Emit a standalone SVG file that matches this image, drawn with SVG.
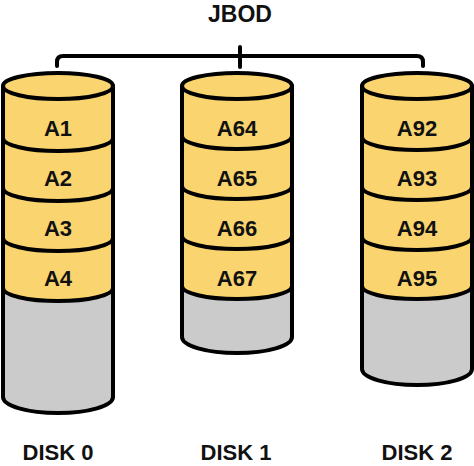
<svg xmlns="http://www.w3.org/2000/svg" width="474" height="466" viewBox="0 0 474 466">
<style>
.body{fill:#CBCBCB;stroke:none}
.data{fill:#FAD46E;stroke:none}
.line{fill:none;stroke:#000;stroke-width:4;stroke-linejoin:round;stroke-linecap:round}
.top{fill:#FAD46E;stroke:#000;stroke-width:4}
text{font-family:"Liberation Sans",Arial,sans-serif;font-weight:bold;fill:#111;text-anchor:middle}
.lbl{font-size:22px}
.cap{font-size:23px}
.dsk{font-size:22px}
</style>
<rect width="474" height="466" fill="#fff"/>
<text class="cap" x="240" y="22">JBOD</text>
<g id="connectors">
<path class="line" d="M57,66 L57,62 Q57,56 63,56 L417,56 Q423,56 423,62 L423,66"/>
<path class="line" d="M240,47 L240,67"/>
</g>
<g id="disk0">
<path class="body" d="M3,86 L3,397 A55,16 0 0 0 113,397 L113,86 Z"/>
<path class="data" d="M3,86 L3,288 A55,13 0 0 0 113,288 L113,86 Z"/>
<path class="line" d="M3,138 A55,13 0 0 0 113,138 M3,188 A55,13 0 0 0 113,188 M3,238 A55,13 0 0 0 113,238 M3,288 A55,13 0 0 0 113,288"/>
<path class="line" d="M3,86 L3,397 A55,16 0 0 0 113,397 L113,86"/>
<ellipse class="top" cx="58" cy="86" rx="55" ry="13"/>
<text class="lbl" x="58" y="136">A1</text>
<text class="lbl" x="58" y="186">A2</text>
<text class="lbl" x="58" y="236">A3</text>
<text class="lbl" x="58" y="286">A4</text>
<text class="dsk" x="58" y="460">DISK 0</text>
</g>
<g id="disk1">
<path class="body" d="M182,86 L182,337 A55,16 0 0 0 292,337 L292,86 Z"/>
<path class="data" d="M182,86 L182,286 A55,13 0 0 0 292,286 L292,86 Z"/>
<path class="line" d="M182,136 A55,13 0 0 0 292,136 M182,186 A55,13 0 0 0 292,186 M182,236 A55,13 0 0 0 292,236 M182,286 A55,13 0 0 0 292,286"/>
<path class="line" d="M182,86 L182,337 A55,16 0 0 0 292,337 L292,86"/>
<ellipse class="top" cx="237" cy="86" rx="55" ry="13"/>
<text class="lbl" x="237" y="136">A64</text>
<text class="lbl" x="237" y="186">A65</text>
<text class="lbl" x="237" y="236">A66</text>
<text class="lbl" x="237" y="286">A67</text>
<text class="dsk" x="236" y="460">DISK 1</text>
</g>
<g id="disk2">
<path class="body" d="M362,86 L362,369 A55,16 0 0 0 472,369 L472,86 Z"/>
<path class="data" d="M362,86 L362,286 A55,13 0 0 0 472,286 L472,86 Z"/>
<path class="line" d="M362,137 A55,13 0 0 0 472,137 M362,187 A55,13 0 0 0 472,187 M362,237 A55,13 0 0 0 472,237 M362,286 A55,13 0 0 0 472,286"/>
<path class="line" d="M362,86 L362,369 A55,16 0 0 0 472,369 L472,86"/>
<ellipse class="top" cx="417" cy="86" rx="55" ry="13"/>
<text class="lbl" x="417" y="136">A92</text>
<text class="lbl" x="417" y="186">A93</text>
<text class="lbl" x="417" y="236">A94</text>
<text class="lbl" x="417" y="286">A95</text>
<text class="dsk" x="417" y="460">DISK 2</text>
</g>
</svg>
